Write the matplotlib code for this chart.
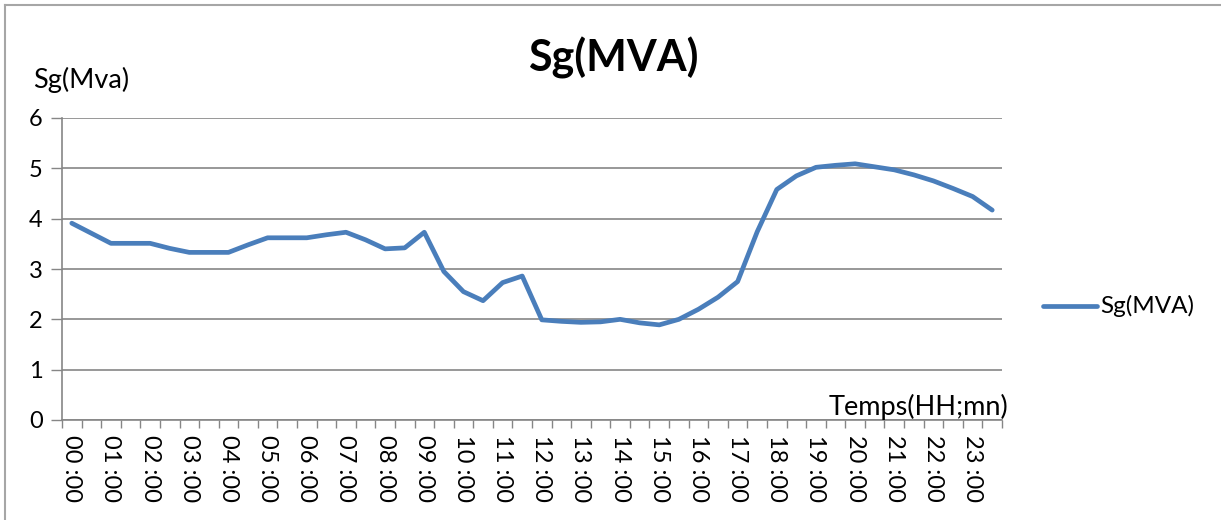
import matplotlib
matplotlib.use("Agg")
import matplotlib.pyplot as plt
from matplotlib.lines import Line2D
import numpy as np

# ---- data ----
hours = [f"{h:02d} :00" for h in range(24)]
sg_mva = [3.91, 3.71, 3.51, 3.51, 3.51, 3.41, 3.33, 3.33, 3.33, 3.48,
          3.62, 3.62, 3.62, 3.68, 3.73, 3.58, 3.40, 3.42, 3.73, 2.95,
          2.55, 2.37, 2.73, 2.86, 1.99, 1.96, 1.94, 1.95, 2.00, 1.93,
          1.89, 2.00, 2.20, 2.44, 2.75, 3.74, 4.58, 4.85, 5.02, 5.06,
          5.09, 5.03, 4.97, 4.87, 4.75, 4.60, 4.44, 4.17]
y_ticks = [0, 1, 2, 3, 4, 5, 6]
title = "Sg(MVA)"
ylabel = "Sg(Mva)"
xlabel = "Temps(HH;mn)"
series_name = "Sg(MVA)"

plt.rcParams['font.family'] = ['Lato', 'DejaVu Sans']

W, H = 1221, 520
fig = plt.figure(figsize=(W / 100, H / 100), dpi=100)

def px(x, y):
    return x / W, 1 - y / H

left, right, top, bottom = 62, 1002, 118, 420
ax = fig.add_axes([left / W, 1 - bottom / H, (right - left) / W, (bottom - top) / H])

x = np.arange(len(sg_mva))
ax.plot(x, sg_mva, color="#4A7EBB", linewidth=3.4, solid_joinstyle="round",
        solid_capstyle="round", zorder=3)

ax.set_xlim(-0.5, len(sg_mva) - 0.5)
ax.set_ylim(0, 6)
ax.set_yticks(y_ticks)
ax.set_yticklabels([str(v) for v in y_ticks], fontsize=17)
ax.grid(axis="y", color="#868686", linewidth=1.2, zorder=1)
ax.set_xticks(np.arange(0, len(sg_mva), 2))
ax.set_xticklabels(hours, rotation=-90, fontsize=17, va="top", ha="center")
ax.set_xticks(np.arange(-0.5, len(sg_mva), 1), minor=True)
ax.tick_params(axis="x", which="major", length=0, pad=11)
ax.tick_params(axis="x", which="minor", length=6, width=1.0, color="#868686", direction="out")
ax.tick_params(axis="y", length=8, width=1.0, color="#868686", direction="out", pad=6)

for s in ["top", "right"]:
    ax.spines[s].set_visible(False)
for s in ["left", "bottom"]:
    ax.spines[s].set_color("#868686")
    ax.spines[s].set_linewidth(1.2)

# title and axis labels
fig.text(*px(613, 58), title, fontsize=31, fontweight="bold", ha="center", va="center")
fig.text(*px(33, 80), ylabel, fontsize=19.5, ha="left", va="center")
fig.text(*px(1008, 407), xlabel, fontsize=19.5, ha="right", va="center")

# legend
fig.add_artist(Line2D([1043 / W, 1097 / W], [1 - 306 / H] * 2, color="#4A7EBB",
                      linewidth=3.4, solid_capstyle="round"))
fig.text(*px(1100, 306), series_name, fontsize=17.5, ha="left", va="center")

# outer frame (left and top)
fig.add_artist(Line2D([5 / W, 5 / W], [0, 1 - 5 / H], color="#A6A6A6", linewidth=1.5))
fig.add_artist(Line2D([5 / W, 1], [1 - 5 / H, 1 - 5 / H], color="#A6A6A6", linewidth=1.5))

fig.savefig("out.png", dpi=100)
